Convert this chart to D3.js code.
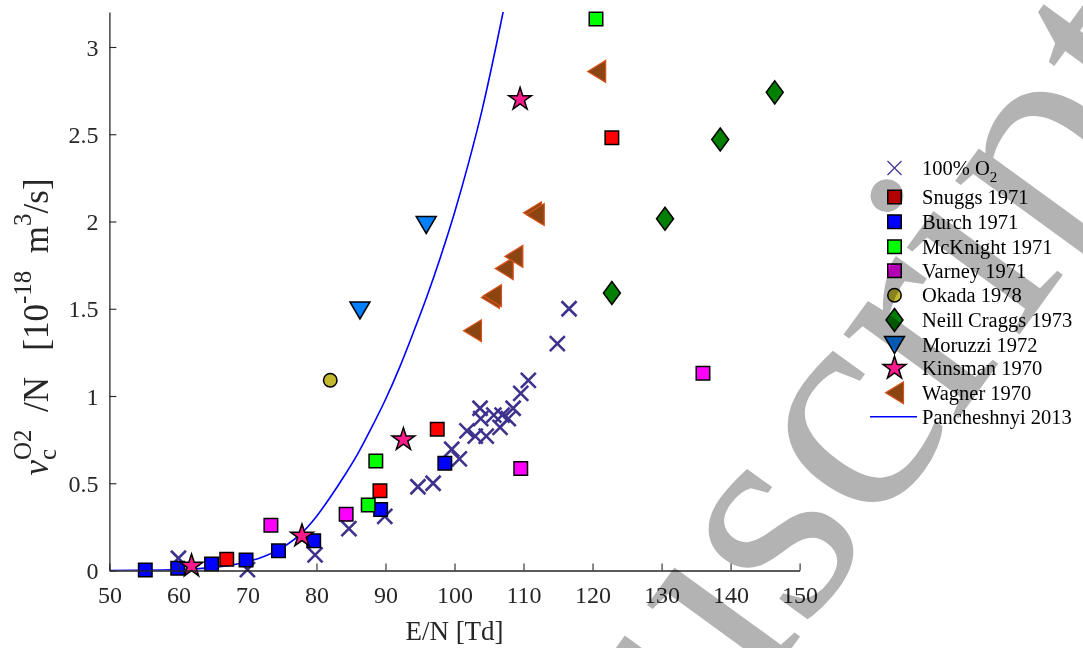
<!DOCTYPE html>
<html>
<head>
<meta charset="utf-8">
<script src="https://cdn.jsdelivr.net/npm/d3@7"></script>
<style>
  html, body { margin: 0; padding: 0; background: #fff; }
  svg { display: block; }
  text { font-family: "Liberation Serif", "Times New Roman", serif; white-space: pre; }
</style>
</head>
<body>
<svg id="chart" width="1083" height="648"></svg>
<script>
// ---- data ----------------------------------------------------------
const o2X = [60, 70, 79.8, 84.7, 89.9, 94.7, 96.9, 99.6, 100.7, 101.8, 103.0, 103.7, 103.8, 104.6, 105.7, 106.6, 106.9, 107.8, 108.5, 109.6, 110.7, 114.9, 116.6];
const o2Y = [0.07, 0.005, 0.09, 0.24, 0.31, 0.48, 0.50, 0.695, 0.64, 0.80, 0.77, 0.93, 0.87, 0.77, 0.89, 0.82, 0.89, 0.87, 0.93, 1.015, 1.09, 1.30, 1.50];

const snuggsX = [67.0, 89.2, 97.5, 122.8];
const snuggsY = [0.064, 0.457, 0.81, 2.48];

const burchX = [55.2, 59.9, 64.8, 69.8, 74.5, 79.6, 89.3, 98.6];
const burchY = [0.003, 0.013, 0.037, 0.06, 0.113, 0.171, 0.35, 0.614];

const mcknightX = [87.5, 88.6, 120.5];
const mcknightY = [0.375, 0.628, 3.16];

const varneyX = [73.4, 84.3, 109.6, 136.0];
const varneyY = [0.26, 0.322, 0.585, 1.13];

const okadaX = [82.0];
const okadaY = [1.09];

const neillX = [122.8, 130.5, 138.5, 146.4];
const neillY = [1.59, 2.016, 2.47, 2.74];

const moruzziX = [86.3, 95.9];
const moruzziY = [1.49, 1.98];

const kinsmanX = [61.9, 77.9, 92.6, 109.5];
const kinsmanY = [0.026, 0.198, 0.75, 2.70];

const wagnerX = [102.6, 105.2, 105.5, 107.2, 108.6, 111.3, 111.7, 120.6];
const wagnerY = [1.374, 1.565, 1.575, 1.73, 1.80, 2.05, 2.04, 2.86];

// Pancheshnyi 2013 fit, sampled
const panX = [50, 55, 60, 63, 66, 69, 72, 75, 78, 80, 82, 84, 86, 88, 90, 92, 94, 96, 98, 100, 102, 104, 106, 107.3];
const panY = [0, 0.001, 0.005, 0.011, 0.022, 0.042, 0.075, 0.13, 0.22, 0.31, 0.42, 0.54, 0.67, 0.82, 0.98, 1.16, 1.36, 1.57, 1.80, 2.05, 2.33, 2.64, 3.0, 3.25];

const xTicks = [50, 60, 70, 80, 90, 100, 110, 120, 130, 140, 150];
const yTicks = [0, 0.5, 1, 1.5, 2, 2.5, 3];

// ---- setup ---------------------------------------------------------
const svg = d3.select("#chart");
const axisColor = "#262626";

const x = d3.scaleLinear().domain([50, 150]).range([109.4, 799.6]);
const y = d3.scaleLinear().domain([0, 3.2]).range([570.5, 12.1]);

const zip = (xs, ys) => xs.map((v, i) => [v, ys[i]]);

// ---- marker shapes -------------------------------------------------
const shapes = {
  square: s => `M${-s/2},${-s/2}h${s}v${s}h${-s}Z`,
  diamond: (w, h) => `M0,${-h/2}L${w/2},0L0,${h/2}L${-w/2},0Z`,
  triDown: (w, h) => `M${-w/2},${-h/2}L${w/2},${-h/2}L0,${h/2}Z`,
  triLeft: (w, h) => `M${w/2},${-h/2}L${w/2},${h/2}L${-w/2},0Z`,
  cross: s => `M${-s/2},${-s/2}L${s/2},${s/2}M${-s/2},${s/2}L${s/2},${-s/2}`,
  star: (R) => {
    const r = R * 0.382;
    const pts = d3.range(10).map(i => {
      const a = -Math.PI / 2 + i * Math.PI / 5;
      const rr = i % 2 === 0 ? R : r;
      return [rr * Math.cos(a), rr * Math.sin(a)];
    });
    return "M" + pts.map(p => p.join(",")).join("L") + "Z";
  },
  circle: d => `M${d/2},0A${d/2},${d/2} 0 1 1 ${-d/2},0A${d/2},${d/2} 0 1 1 ${d/2},0Z`
};

const series = [
  { name: "100% O", sub: "2", xs: o2X, ys: o2Y, path: shapes.cross(15), legendPath: shapes.cross(14),
    fill: "none", stroke: "#3d338c", sw: 2.6, legendSw: 1.2 },
  { name: "Snuggs 1971", xs: snuggsX, ys: snuggsY, path: shapes.square(13.5), fill: "#ff0000", stroke: "#000", sw: 1.5 },
  { name: "Burch 1971", xs: burchX, ys: burchY, path: shapes.square(13.5), fill: "#0000ff", stroke: "#000", sw: 1.5 },
  { name: "McKnight 1971", xs: mcknightX, ys: mcknightY, path: shapes.square(13.5), fill: "#00ff00", stroke: "#000", sw: 1.5 },
  { name: "Varney 1971", xs: varneyX, ys: varneyY, path: shapes.square(13.5), fill: "#ff00ff", stroke: "#000", sw: 1.5 },
  { name: "Okada 1978", xs: okadaX, ys: okadaY, path: shapes.circle(13.5), fill: "#c2b92f", stroke: "#000", sw: 1.5 },
  { name: "Neill Craggs 1973", xs: neillX, ys: neillY, path: shapes.diamond(17, 23), fill: "#007f00", stroke: "#000", sw: 1.5 },
  { name: "Moruzzi 1972", xs: moruzziX, ys: moruzziY, path: shapes.triDown(20, 17), fill: "#0080ff", stroke: "#000", sw: 1.5 },
  { name: "Kinsman 1970", xs: kinsmanX, ys: kinsmanY, path: shapes.star(12), fill: "#ff1a8c", stroke: "#000", sw: 1.5 },
  { name: "Wagner 1970", xs: wagnerX, ys: wagnerY, path: shapes.triLeft(18, 22), fill: "#8b4513", stroke: "#d95319", sw: 1.2 }
];

// ---- curve (drawn underneath the markers) --------------------------
svg.append("defs").append("clipPath").attr("id", "plotClip")
  .append("rect").attr("x", x(50)).attr("y", y(3.2))
  .attr("width", x(150) - x(50)).attr("height", y(0) - y(3.2));

const line = d3.line().x(d => x(d[0])).y(d => y(d[1])).curve(d3.curveMonotoneX);
svg.append("path")
  .attr("clip-path", "url(#plotClip)")
  .attr("d", line(zip(panX, panY)))
  .attr("fill", "none").attr("stroke", "#0000ff").attr("stroke-width", 1.6);

// ---- markers -------------------------------------------------------
series.forEach(s => {
  svg.append("g").selectAll("path").data(zip(s.xs, s.ys)).join("path")
    .attr("transform", d => `translate(${x(d[0])},${y(d[1])})`)
    .attr("d", s.path)
    .attr("fill", s.fill).attr("stroke", s.stroke).attr("stroke-width", s.sw)
    .attr("stroke-linejoin", "miter");
});

// ---- axes ----------------------------------------------------------
const xAxis = svg.append("g").attr("transform", `translate(0,${y(0)})`)
  .call(d3.axisBottom(x).tickValues(xTicks).tickSizeInner(-7).tickSizeOuter(0).tickPadding(15).tickFormat(d3.format("d")));
const yAxis = svg.append("g").attr("transform", `translate(${x(50)},0)`)
  .call(d3.axisLeft(y).tickValues(yTicks).tickSizeInner(-7).tickSizeOuter(0).tickPadding(11).tickFormat(d => d3.format("")(d)));

[xAxis, yAxis].forEach(a => {
  a.select(".domain").attr("stroke", axisColor).attr("stroke-width", 1.3);
  a.selectAll(".tick line").attr("stroke", axisColor).attr("stroke-width", 1.1);
  a.selectAll(".tick text").attr("fill", axisColor)
    .style("font-family", '"Liberation Serif", serif').style("font-size", "24px");
});
xAxis.selectAll(".tick text").attr("dy", "0.71em");
yAxis.selectAll(".tick text").attr("dy", "0.34em");

// x label
svg.append("text")
  .attr("x", x(100)).attr("y", 640)
  .attr("text-anchor", "middle")
  .attr("fill", axisColor)
  .style("font-size", "27px")
  .text("E/N [Td]");

// y label: \nu_c^{O2} / N  [10^{-18} m^3/s]
(function () {
  const fs = 35, small = 25;
  const g = svg.append("g");
  const pieces = [
    { t: "ν", size: fs, dy: 0, italic: true },
    { t: "c", size: small, dy: 8, stack: "start" },
    { t: "O2", size: small, dy: -17, stack: "end" },
    { t: "  /N   [10", size: fs, dy: 0 },
    { t: "-18", size: small, dy: -17 },
    { t: "  m", size: fs, dy: 0 },
    { t: "3", size: small, dy: -17 },
    { t: "/s]", size: fs, dy: 0 }
  ];
  let cursor = 0, stackX = 0, stackW = 0;
  pieces.forEach(p => {
    const px = p.stack === "end" ? stackX : cursor;
    const t = g.append("text")
      .attr("x", px).attr("y", p.dy)
      .attr("fill", axisColor)
      .style("font-size", p.size + "px")
      .style("font-style", p.italic ? "italic" : "normal")
      .text(p.t);
    const w = t.node().getComputedTextLength();
    if (p.stack === "start") { stackX = px; stackW = w; cursor = px + w; }
    else if (p.stack === "end") { cursor = stackX + Math.max(stackW, w); }
    else cursor = px + w;
  });
  // centre the label along the plot height
  g.attr("transform", `translate(48,${327 + cursor / 2}) rotate(-90)`);
})();

// ---- legend --------------------------------------------------------
const legendRows = [168, 197, 221.7, 246.7, 270.7, 295.3, 320, 345, 368.3, 392.7, 416.7];
const legend = svg.append("g");
series.forEach((s, i) => {
  const ry = legendRows[i];
  legend.append("path")
    .attr("transform", `translate(894.5,${ry})`)
    .attr("d", s.legendPath || s.path)
    .attr("fill", s.fill).attr("stroke", s.stroke)
    .attr("stroke-width", s.legendSw || s.sw);
  const t = legend.append("text")
    .attr("x", 922).attr("y", ry + 7)
    .attr("fill", "#000")
    .style("font-size", "20.5px")
    .text(s.name);
  if (s.sub) {
    t.append("tspan").attr("dy", 7).style("font-size", "15px").text(s.sub);
  }
});
const lastRow = legendRows[legendRows.length - 1];
legend.append("line")
  .attr("x1", 870).attr("x2", 917).attr("y1", lastRow).attr("y2", lastRow)
  .attr("stroke", "#0000ff").attr("stroke-width", 1.6);
legend.append("text")
  .attr("x", 922).attr("y", lastRow + 7)
  .attr("fill", "#000")
  .style("font-size", "20.5px")
  .text("Pancheshnyi 2013");

// ---- watermark -----------------------------------------------------
svg.append("text")
  .attr("transform", "translate(1208,75) rotate(-54)")
  .attr("text-anchor", "end")
  .attr("fill", "#b3b3b3")
  .style("mix-blend-mode", "multiply")
  .style("font-size", "310px")
  .text("Manuscript");
</script>
</body>
</html>
